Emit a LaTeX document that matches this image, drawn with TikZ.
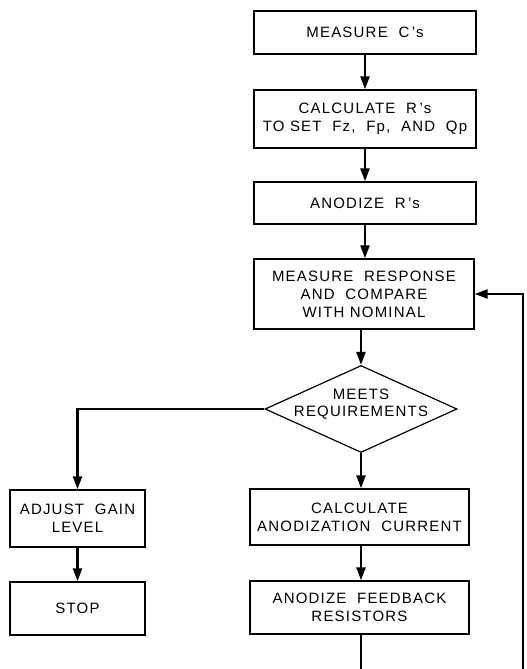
\documentclass[tikz,border=0pt]{standalone}
\usepackage{fontspec}
\setmainfont{Liberation Sans}[LetterSpace=8]
\usetikzlibrary{shapes.geometric,arrows.meta}
\begin{document}
\begin{tikzpicture}[x=1pt,y=-1pt,
  box/.style={draw,line width=1.4pt,align=center,inner sep=0pt,font=\fontsize{15}{18}\selectfont},
  dec/.style={draw,diamond,line width=1.2pt,inner sep=0pt,font=\fontsize{15}{18}\selectfont},
  flow/.style={line width=2.4pt,-{Triangle[length=13pt,width=9pt]}},
  plain/.style={line width=2.4pt}]
\useasboundingbox (0,0) rectangle (527,669);
\node[box,minimum width=222pt,minimum height=43pt] (mc) at (365,32.5) {MEASURE\ \ C\,’s};
\node[box,minimum width=222pt,minimum height=58pt] (cr) at (365,119) {CALCULATE\ \ R\,’s\\TO\ SET\ \ Fz,\ \ Fp,\ \ AND\ \ Qp};
\node[box,minimum width=222pt,minimum height=42pt] (ar) at (365,203) {ANODIZE\ \ R\,’s};
\node[box,minimum width=220pt,minimum height=70pt] (mr) at (364,294) {MEASURE\ \ RESPONSE\\AND\ \ COMPARE\\WITH NOMINAL};
\node[dec,minimum width=192pt,minimum height=87pt] (d) at (361,409) {\makebox[0pt]{\smash{\raisebox{1pt}{\begin{tabular}{@{}c@{}}MEETS\\[-1pt]REQUIREMENTS\end{tabular}}}}};
\node[box,minimum width=135pt,minimum height=57pt] (ag) at (77.5,518.5) {ADJUST\ \ GAIN\\LEVEL};
\node[box,minimum width=135pt,minimum height=53pt] (st) at (77.5,608.5) {STOP};
\node[box,minimum width=219pt,minimum height=56pt] (ca) at (359.5,517) {CALCULATE\\ANODIZATION\ \ CURRENT};
\node[box,minimum width=219pt,minimum height=53pt] (af) at (359.5,607.5) {ANODIZE\ \ FEEDBACK\\RESISTORS};
\coordinate (b1) at (361,669);
\coordinate (b2) at (523,669);
\draw[flow] (mc.south) -- (mc.south |- cr.north);
\draw[flow] (cr.south) -- (cr.south |- ar.north);
\draw[flow] (ar.south) -- (ar.south |- mr.north);
\draw[flow] (mr.south -| d.north) -- (d.north);
\draw[flow] (d.west) -| (ag.north);
\draw[flow] (ag.south) -- (st.north);
\draw[flow] (d.south) -- (d.south |- ca.north);
\draw[flow] (ca.south -| d.south) -- (d.south |- af.north);
\draw[plain] (af.south -| b1) -- (b1);
\draw[flow] (b2) |- (mr.east);
\end{tikzpicture}
\end{document}
